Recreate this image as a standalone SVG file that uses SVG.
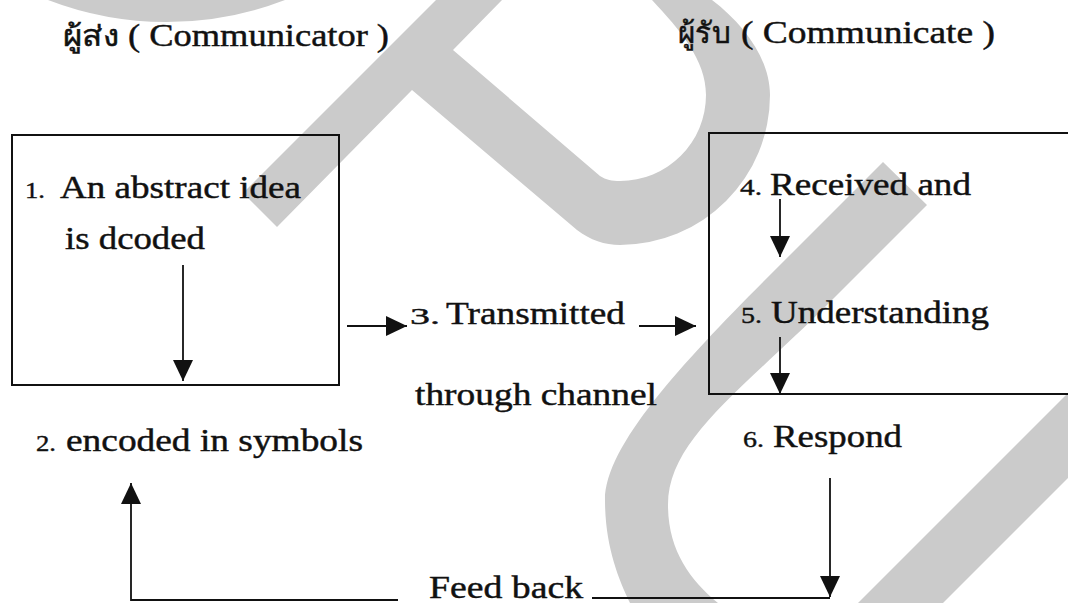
<svg xmlns="http://www.w3.org/2000/svg" width="1068" height="603" viewBox="0 0 1068 603">
  <defs>
    <style>
      .wm { fill: #cbcbcb; stroke: none; }
      .box { fill: none; stroke: #111; stroke-width: 2; }
      .txt { font-family: 'Liberation Serif', 'Times New Roman', Times, serif; font-size: 32px; fill: #111; stroke: #111; stroke-width: 0.45; }
      .num { font-family: 'Liberation Serif', 'Times New Roman', Times, serif; font-size: 24px; fill: #111; stroke: #111; stroke-width: 0.4; }
      .th { font-family: 'Liberation Serif', 'Noto Sans', sans-serif; font-size: 29px; fill: #111; stroke: #111; stroke-width: 0.5; }
      .conn { fill: none; stroke: #111; stroke-width: 1.8; }
    </style>
    <marker id="head" markerUnits="userSpaceOnUse" markerWidth="22" markerHeight="20" refX="21" refY="10" orient="auto">
      <path d="M0,0 L21,10 L0,20 Z" fill="#111"/>
    </marker>
  </defs>

  <rect width="1068" height="603" fill="#ffffff"/>

  <!-- large light-grey background strokes -->
  <g id="backdrop">
    <path class="wm" d="M48,0 A330 330 0 0 0 285,0 Z"/>
    <path class="wm" d="M436,0 L243,193 L277,227 L412,90 L577,230 C590,240 605,245 620,245 A150 150 0 0 0 770,95 C770,60 745,25 712,0 L652,0 C680,30 706,60 706,95 A86 86 0 0 1 620,181 C612,181 606,180 600,176 L453,50 L502,0 Z"/>
    <path class="wm" d="M883,162 L790,255 C700,345 605,440 605,500 C605,545 618,578 630,603 L718,603 C690,580 668,550 668,505 C668,440 740,392 830,302 L927,205 Z"/>
    <path class="wm" d="M858,603 L1068,393 L1068,478 L943,603 Z"/>
  </g>

  <!-- column headings -->
  <g id="sender-heading">
    <text class="th" x="63" y="46" textLength="56" lengthAdjust="spacingAndGlyphs">ผู้ส่ง</text>
    <text class="txt" x="128" y="46" textLength="261" lengthAdjust="spacingAndGlyphs">( Communicator )</text>
  </g>
  <g id="receiver-heading">
    <text class="th" x="678" y="43" textLength="52" lengthAdjust="spacingAndGlyphs">ผู้รับ</text>
    <text class="txt" x="741" y="43" textLength="254" lengthAdjust="spacingAndGlyphs">( Communicate )</text>
  </g>

  <!-- sender box -->
  <g id="sender-box">
    <rect class="box" x="12" y="135" width="327" height="250"/>
    <text class="num" x="25" y="198" font-size="26" textLength="20" lengthAdjust="spacingAndGlyphs">1.</text>
    <text class="txt" x="60" y="198" textLength="241" lengthAdjust="spacingAndGlyphs">An abstract idea</text>
    <text class="txt" x="65" y="249" textLength="140" lengthAdjust="spacingAndGlyphs">is dcoded</text>
  </g>

  <g id="encoded">
    <text class="num" x="36" y="451" textLength="20" lengthAdjust="spacingAndGlyphs">2.</text>
    <text class="txt" x="66" y="451" textLength="297" lengthAdjust="spacingAndGlyphs">encoded in symbols</text>
  </g>

  <g id="transmitted">
    <text class="num" x="410" y="324" font-size="30" textLength="30" lengthAdjust="spacingAndGlyphs">3.</text>
    <text class="txt" x="446" y="324" textLength="179" lengthAdjust="spacingAndGlyphs">Transmitted</text>
    <text class="txt" x="415" y="405" textLength="242" lengthAdjust="spacingAndGlyphs">through channel</text>
  </g>

  <!-- receiver box (runs off the right edge) -->
  <g id="receiver-box">
    <rect class="box" x="709" y="133" width="400" height="261"/>
    <text class="num" x="740" y="195" textLength="22" lengthAdjust="spacingAndGlyphs">4.</text>
    <text class="txt" x="770" y="195" textLength="201" lengthAdjust="spacingAndGlyphs">Received and</text>
    <text class="num" x="741" y="323" textLength="21" lengthAdjust="spacingAndGlyphs">5.</text>
    <text class="txt" x="771" y="323" textLength="218" lengthAdjust="spacingAndGlyphs">Understanding</text>
  </g>

  <g id="respond">
    <text class="num" x="743" y="447" textLength="21" lengthAdjust="spacingAndGlyphs">6.</text>
    <text class="txt" x="773" y="447" textLength="129" lengthAdjust="spacingAndGlyphs">Respond</text>
  </g>

  <g id="feedback">
    <text class="txt" x="429" y="598" textLength="154" lengthAdjust="spacingAndGlyphs">Feed back</text>
  </g>

  <g id="connectors">
    <path class="conn" d="M183,265 V381" marker-end="url(#head)"/>
    <path class="conn" d="M347,326 H407" marker-end="url(#head)"/>
    <path class="conn" d="M639,326 H696" marker-end="url(#head)"/>
    <path class="conn" d="M780,199 V257" marker-end="url(#head)"/>
    <path class="conn" d="M780,337 V394" marker-end="url(#head)"/>
    <path class="conn" d="M830,478 V597" marker-end="url(#head)"/>
    <path class="conn" d="M592,598 H830"/>
    <path class="conn" d="M398,600 H131 V483" marker-end="url(#head)"/>
  </g>
</svg>
